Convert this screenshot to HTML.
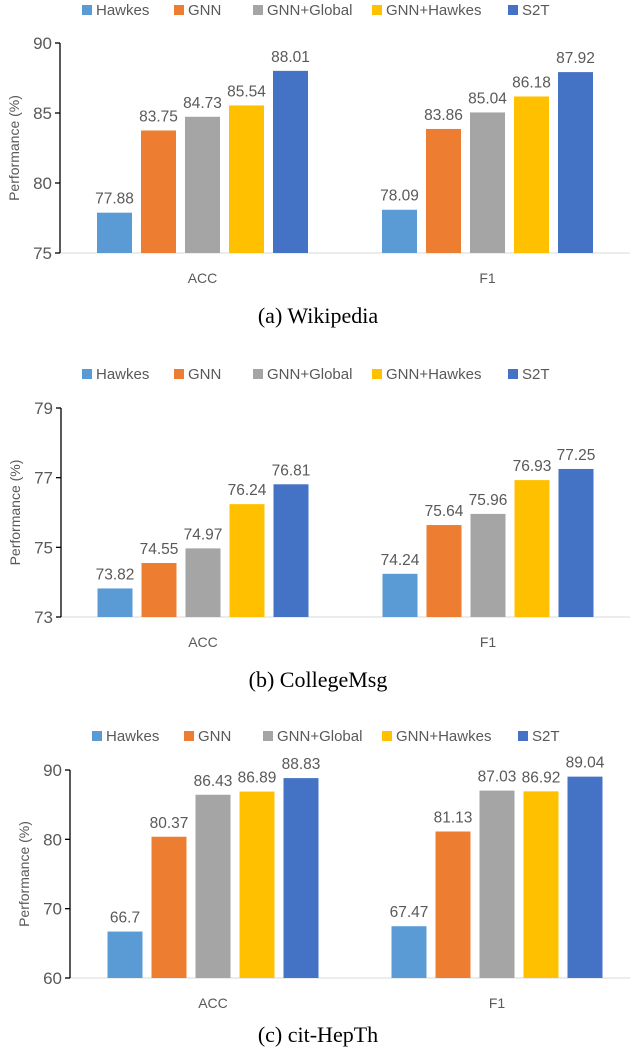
<!DOCTYPE html>
<html><head><meta charset="utf-8">
<style>
body{margin:0;background:#fff;width:640px;height:1051px;overflow:hidden}
svg{display:block}
text{font-family:"Liberation Sans",sans-serif;fill:#595959}
.cap{font-family:"Liberation Serif",serif;fill:#000;font-size:22px}
</style></head>
<body>
<svg id="s" width="640" height="1051"></svg>
<script>
const seriesNames=["Hawkes","GNN","GNN+Global","GNN+Hawkes","S2T"];
const categories=["ACC","F1"];
const wikiAcc=[77.88,83.75,84.73,85.54,88.01];
const wikiF1=[78.09,83.86,85.04,86.18,87.92];
const wikiTicks=[75,80,85,90];
const collegeAcc=[73.82,74.55,74.97,76.24,76.81];
const collegeF1=[74.24,75.64,75.96,76.93,77.25];
const collegeTicks=[73,75,77,79];
const hepAcc=[66.7,80.37,86.43,86.89,88.83];
const hepF1=[67.47,81.13,87.03,86.92,89.04];
const hepTicks=[60,70,80,90];
const hepLabels=["66.7","80.37","86.43","86.89","88.83"];
const colors=["#5b9bd5","#ed7d31","#a5a5a5","#ffc000","#4472c4"];
const NS="http://www.w3.org/2000/svg";
const svg=document.getElementById('s');
function el(t,a,p){const e=document.createElementNS(NS,t);for(const k in a)e.setAttribute(k,a[k]);(p||svg).appendChild(e);return e;}
function chart(o){
  const g=el('g',{});
  
  
  const y=v=>o.y0+(v-o.ticks[0])/(o.ticks[o.ticks.length-1]-o.ticks[0])*(o.y1-o.y0);
  const lx=[0,92,171,290,426];
  seriesNames.forEach((n,i)=>{
    const lg=el('g',{},g);
    
    
    el('rect',{x:o.lx+lx[i],y:o.ly-5,width:10,height:10,fill:colors[i]},lg);
    const t=el('text',{x:o.lx+lx[i]+14,y:o.ly+5,'font-size':15},lg);t.textContent=n;
  });
  const bl=el('line',{x1:o.ax,x2:630,y1:o.y0,y2:o.y0,stroke:'#d9d9d9','stroke-width':1},g);
  
  
  const yl=el('line',{x1:o.ax,x2:o.ax,y1:o.y0,y2:o.y1,stroke:'#000','stroke-width':1.3},g);
  
  
  o.ticks.forEach(tv=>{
    el('line',{x1:o.ax-5,x2:o.ax,y1:y(tv),y2:y(tv),stroke:'#000','stroke-width':1.3},g);
    const t=el('text',{x:o.ax-8,y:y(tv)+6,'font-size':17,'text-anchor':'end'},g);t.textContent=tv;
    
    
  });
  const yt=el('text',{transform:`translate(${o.ax-41},${(o.y0+o.y1)/2}) rotate(-90)`,'font-size':14,'text-anchor':'middle'},g);
  yt.textContent='Performance (%)';
  
  
  [o.acc,o.f1].forEach((vals,c)=>{
    const cx=o.cx[c];
    vals.forEach((v,i)=>{
      const x=cx-105.5+i*44;
      const r=el('rect',{x:x,y:y(v),width:35,height:o.y0-y(v),fill:colors[i]},g);
      
      
      const t=el('text',{x:x+17.5,y:y(v)-9,'font-size':15.5,'text-anchor':'middle'},g);
      t.textContent=o.labels&&c==0?o.labels[i]:v.toFixed(2);
      
      
    });
    const ct=el('text',{x:cx,y:o.y0+30,'font-size':14,'text-anchor':'middle'},g);
    ct.textContent=categories[c];
    
    
  });
  const cp=el('text',{x:318,y:o.cy,'text-anchor':'middle',class:'cap'},g);
  cp.textContent=o.cap;
  
  
}
chart({name:'wikipedia-chart',acc:wikiAcc,f1:wikiF1,ticks:wikiTicks,ax:60,y0:253,y1:43,cx:[202.5,487.5],lx:82,ly:10,cy:323,cap:'(a)  Wikipedia'});
chart({name:'collegemsg-chart',acc:collegeAcc,f1:collegeF1,ticks:collegeTicks,ax:61,y0:617,y1:408,cx:[203,488],lx:82,ly:374,cy:687,cap:'(b)  CollegeMsg'});
chart({name:'cit-hepth-chart',acc:hepAcc,f1:hepF1,ticks:hepTicks,labels:hepLabels,ax:70,y0:978,y1:770,cx:[213,497],lx:92,ly:736,cy:1042,cap:'(c)  cit-HepTh'});
</script>
</body></html>
